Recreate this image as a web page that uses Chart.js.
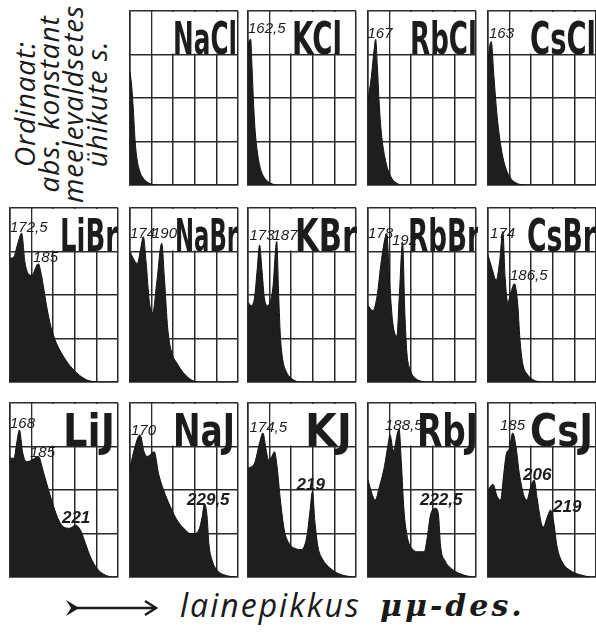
<!DOCTYPE html>
<html>
<head>
<meta charset="utf-8">
<script src="https://cdn.jsdelivr.net/npm/chart.js@4.4.1/dist/chart.umd.min.js"></script>
<style>
  html, body { margin: 0; padding: 0; background: #fff; }
  body { position: relative; width: 596px; height: 639px; overflow: hidden; }
  canvas.panel { position: absolute; }
  #ordinate {
    position: absolute; left: -45px; top: 56px; width: 210px; height: 96px;
    transform: rotate(-90deg); transform-origin: 50% 50%;
    font: italic 28px/24px "Open Sans", sans-serif; color: #1a1a1a; letter-spacing: 0.8px;
    text-align: center; white-space: nowrap;
  }
  #arrow { position: absolute; left: 60px; top: 596px; }
  #caption {
    position: absolute; left: 180px; top: 590px;
    font: italic 32px/30px "Open Sans", sans-serif; color: #1a1a1a; letter-spacing: 2px;
  }
  #unit {
    position: absolute; left: 380px; top: 591px;
    font: italic bold 30px/30px "DejaVu Serif", serif; color: #1a1a1a; letter-spacing: 3px;
  }
</style>
</head>
<body>
<div id="ordinate">Ordinaat:<br>abs. konstant<br>meelevaldsetes<br>ühikute s.</div>
<svg id="arrow" width="100" height="24" viewBox="60 596 100 24">
  <path d="M66 600 L79 608 L66 616 L71 608 Z" fill="#1a1a1a"/>
  <path d="M72 608 L155 608 M145 601 L156 608 L145 615" stroke="#1a1a1a" stroke-width="2.4" fill="none"/>
</svg>
<div id="caption">lainepikkus</div>
<div id="unit">μμ-des.</div>

<script>
// absorption curves, wavelength in μμ (x) and absorption in arbitrary units (y)
const NaCl_x = [160, 161.6, 163.1, 164.7, 166.2, 168.7, 172.4, 177.1, 183.3];
const NaCl_y = [2.6, 2.26, 1.72, 1.03, 0.65, 0.34, 0.15, 0.05, 0];

const KCl_x = [160, 160.9, 162.5, 163.7, 165.3, 166.8, 169.3, 172.4, 177.1, 184.8];
const KCl_y = [3.1, 3.3, 3.35, 2.72, 1.8, 1.19, 0.65, 0.31, 0.11, 0];

const RbCl_x = [160, 163.1, 165.6, 167.1, 168.7, 170.2, 172.4, 175.5, 178.6, 183.3, 189.5];
const RbCl_y = [1.95, 2.49, 3.1, 3.35, 2.72, 1.95, 1.19, 0.65, 0.34, 0.11, 0];

const CsCl_x = [160, 161.5, 163, 165.5, 168.5, 172, 175.5, 180, 186.5, 194];
const CsCl_y = [2.8, 3.18, 3.3, 2.49, 1.57, 0.88, 0.46, 0.19, 0.04, 0];

const LiBr_x = [160, 163.7, 166.8, 170.8, 173.8, 176.9, 180, 186.2, 189.2, 190.8, 193.8, 196.9, 201.5, 209.2, 218.5, 230.8, 240];
const LiBr_y = [2.84, 2.88, 3.15, 3.42, 2.76, 2.49, 2.45, 2.72, 2.45, 2.22, 1.76, 1.37, 0.98, 0.6, 0.29, 0.05, 0];

const NaBr_x = [160, 163.1, 166.8, 169.9, 172.4, 174.9, 178, 181.1, 184.8, 189.4, 191.9, 195, 198.7, 203.3, 209.5, 217.3, 221.9];
const NaBr_y = [2.99, 2.84, 2.72, 3.07, 3.34, 2.76, 1.83, 1.6, 2.3, 3.19, 2.38, 1.21, 0.67, 0.44, 0.21, 0.04, 0];

const KBr_x = [160, 163.1, 166.1, 168.6, 170.7, 172.8, 175.3, 178.3, 182.9, 186.6, 188.4, 190, 192.1, 195.2, 199.8, 205.9];
const KBr_y = [1.83, 1.76, 1.95, 2.61, 3.15, 2.61, 1.91, 1.76, 2.14, 3.23, 1.99, 1.06, 0.52, 0.25, 0.09, 0];

const RbBr_x = [160, 164.6, 168.5, 172.2, 177.4, 179.8, 182.9, 186.8, 189, 192, 194.1, 196, 199, 204.2, 211.8];
const RbBr_y = [1.76, 1.64, 1.99, 2.76, 3.4, 2.38, 1.37, 1.06, 1.99, 3.21, 1.6, 0.67, 0.29, 0.08, 0];

const CsBr_x = [160, 163.7, 167.6, 170.7, 173.7, 175.9, 178.3, 181.3, 184.4, 187.4, 189.6, 192, 196.6, 202.7, 208.8];
const CsBr_y = [2.92, 2.61, 2.34, 2.76, 3.46, 2.38, 1.83, 2.07, 2.26, 1.83, 0.98, 0.44, 0.17, 0.04, 0];

const LiJ_x = [160, 163.7, 166.2, 168.7, 171.8, 175.5, 180.2, 186.4, 190.4, 195.7, 200.4, 205, 209.7, 215.3, 220.6, 225.2, 229.9, 234.5, 240.8, 247, 253.2];
const LiJ_y = [2.73, 2.73, 3.08, 3.38, 2.85, 2.65, 2.69, 2.77, 2.46, 2.0, 1.62, 1.31, 1.15, 1.12, 1.19, 1.08, 0.77, 0.46, 0.19, 0.06, 0];

const NaJ_x = [160, 163.1, 169.3, 173, 176.1, 182.4, 186.4, 191.1, 197.3, 203.5, 209.7, 217.5, 223.7, 226.8, 229, 231.4, 233, 236.1, 240.8, 248.5, 256.3];
const NaJ_y = [2.5, 2.85, 3.27, 2.88, 2.77, 2.88, 2.38, 2.0, 1.62, 1.31, 1.12, 0.98, 1.08, 1.38, 1.69, 1.38, 0.77, 0.38, 0.15, 0.04, 0];

const KJ_x = [160, 166.1, 170.7, 173.8, 176.8, 179, 182, 184.5, 186.9, 190, 193.6, 198.2, 204.3, 209.5, 214.4, 217.5, 219.6, 222.1, 224.8, 228.8, 234.9, 242.6, 251.7, 257.9];
const KJ_y = [2.5, 2.62, 3.08, 3.31, 2.92, 2.69, 2.77, 2.88, 2.54, 1.77, 1.08, 0.77, 0.65, 0.63, 0.92, 1.54, 1.96, 1.23, 0.69, 0.42, 0.23, 0.09, 0.02, 0];

const RbJ_x = [160, 163.6, 166.7, 170.6, 175.2, 178.8, 180.3, 183.6, 187.3, 188.8, 190.9, 193.3, 196.4, 200.9, 207, 212.1, 214.5, 218.2, 222.7, 225.1, 227.3, 231.2, 237.3, 244.8, 252.4, 258.5];
const RbJ_y = [2.23, 1.92, 1.77, 2.08, 2.54, 3.08, 3.27, 2.9, 3.31, 3.4, 2.62, 1.54, 0.92, 0.65, 0.58, 0.58, 0.85, 1.46, 1.58, 1.46, 0.69, 0.38, 0.19, 0.08, 0.02, 0];

const CsJ_x = [160, 164.6, 168.5, 171.6, 174.6, 176.8, 179.8, 182.9, 185.9, 189, 193.5, 196, 199.6, 202.7, 205.7, 209.4, 211.2, 214.9, 217.9, 221, 224, 228.6, 236.2, 245.4, 254.5];
const CsJ_y = [2.0, 2.13, 1.85, 1.77, 2.38, 2.81, 2.96, 3.31, 3.0, 2.38, 1.85, 1.77, 2.08, 2.23, 1.77, 1.23, 1.15, 1.38, 1.54, 1.23, 0.69, 0.35, 0.15, 0.05, 0];

// peak wavelengths written on the curves: [text, wavelength, height, bold]
const KCl_peaks = [['162,5', 160, 3.49]];
const RbCl_peaks = [['167', 159.5, 3.38]];
const CsCl_peaks = [['163', 160.9, 3.38]];
const LiBr_peaks = [['172,5', 160, 3.45], ['185', 181.3, 2.76]];
const NaBr_peaks = [['174', 160, 3.31], ['190', 180.4, 3.31]];
const KBr_peaks = [['173', 161.4, 3.26], ['187', 182.7, 3.26]];
const RbBr_peaks = [['178', 160, 3.31], ['192', 182.2, 3.15]];
const CsBr_peaks = [['174', 161.9, 3.31], ['186,5', 180.4, 2.34]];
const LiJ_peaks = [['168', 160, 3.43], ['185', 178.5, 2.76], ['221', 208.1, 1.24, true]];
const NaJ_peaks = [['170', 160.9, 3.26], ['229,5', 212.8, 1.66, true]];
const KJ_peaks = [['174,5', 161.4, 3.33], ['219', 205, 2.0, true]];
const RbJ_peaks = [['188,5', 175.7, 3.38], ['222,5', 208.1, 1.66, true]];
const CsJ_peaks = [['185', 171.1, 3.38], ['206', 192.4, 2.23, true], ['219', 220.2, 1.49, true]];

// layout
const colLeft = [10, 130, 248, 368, 488];
const rowTop = [11, 208, 403];
const PW = 108, PH = 174, PAD = 2;
const INK = '#1c1c1c';

const panels = [
  { name: 'NaCl', x: NaCl_x, y: NaCl_y, peaks: [], col: 1, row: 0, box: [43, 64] },
  { name: 'KCl', x: KCl_x, y: KCl_y, peaks: KCl_peaks, col: 2, row: 0, box: [44, 50] },
  { name: 'RbCl', x: RbCl_x, y: RbCl_y, peaks: RbCl_peaks, col: 3, row: 0, box: [42, 67] },
  { name: 'CsCl', x: CsCl_x, y: CsCl_y, peaks: CsCl_peaks, col: 4, row: 0, box: [42, 66] },
  { name: 'LiBr', x: LiBr_x, y: LiBr_y, peaks: LiBr_peaks, col: 0, row: 1, box: [50, 58] },
  { name: 'NaBr', x: NaBr_x, y: NaBr_y, peaks: NaBr_peaks, col: 1, row: 1, box: [45, 63] },
  { name: 'KBr', x: KBr_x, y: KBr_y, peaks: KBr_peaks, col: 2, row: 1, box: [47, 62] },
  { name: 'RbBr', x: RbBr_x, y: RbBr_y, peaks: RbBr_peaks, col: 3, row: 1, box: [40, 72] },
  { name: 'CsBr', x: CsBr_x, y: CsBr_y, peaks: CsBr_peaks, col: 4, row: 1, box: [39, 69] },
  { name: 'LiJ', x: LiJ_x, y: LiJ_y, peaks: LiJ_peaks, col: 0, row: 2, box: [53, 52] },
  { name: 'NaJ', x: NaJ_x, y: NaJ_y, peaks: NaJ_peaks, col: 1, row: 2, box: [43, 62] },
  { name: 'KJ', x: KJ_x, y: KJ_y, peaks: KJ_peaks, col: 2, row: 2, box: [57, 47] },
  { name: 'RbJ', x: RbJ_x, y: RbJ_y, peaks: RbJ_peaks, col: 3, row: 2, box: [49, 61] },
  { name: 'CsJ', x: CsJ_x, y: CsJ_y, peaks: CsJ_peaks, col: 4, row: 2, box: [42, 63] }
];

// title cell in the top row + salt name and peak numbers
const panelDecor = {
  id: 'panelDecor',
  beforeDatasetsDraw(chart, args, o) {
    const { ctx, scales: { x, y } } = chart;
    const l = x.getPixelForValue(180) + 1, r = x.getPixelForValue(260) - 1;
    const t = y.getPixelForValue(4) + 1, b = y.getPixelForValue(3) - 1;
    ctx.save();
    ctx.fillStyle = '#fff';
    ctx.fillRect(l, t, r - l, b - t);
    ctx.restore();
  },
  afterDatasetsDraw(chart, args, o) {
    const { ctx, chartArea: a, scales: { x, y } } = chart;
    ctx.save();
    ctx.fillStyle = INK;
    ctx.textBaseline = 'alphabetic';
    ctx.font = 'bold 44px "DejaVu Sans", sans-serif';
    const w = ctx.measureText(o.name).width;
    ctx.translate(a.left + o.box[0], y.getPixelForValue(3) - 1);
    ctx.scale(o.box[1] / w, 1);
    ctx.fillText(o.name, 0, 0);
    ctx.restore();

    ctx.save();
    ctx.fillStyle = INK;
    ctx.textBaseline = 'alphabetic';
    o.peaks.forEach(([txt, px, py, bold]) => {
      ctx.font = bold ? 'italic bold 17px "Liberation Sans", sans-serif'
                      : 'italic 15px "Liberation Sans Narrow", sans-serif';
      ctx.fillText(txt, x.getPixelForValue(px), y.getPixelForValue(py));
    });
    ctx.restore();
  }
};

const gridStyle = { color: '#2a2a2a', lineWidth: 1.5, drawTicks: false };
const borderStyle = { color: '#2a2a2a', width: 1.5 };

panels.forEach(p => {
  const cv = document.createElement('canvas');
  cv.className = 'panel';
  cv.width = PW + 2 * PAD;
  cv.height = PH + 2 * PAD;
  cv.style.left = (colLeft[p.col] - PAD) + 'px';
  cv.style.top = (rowTop[p.row] - PAD) + 'px';
  document.body.appendChild(cv);

  new Chart(cv, {
    type: 'line',
    data: {
      datasets: [{
        data: p.x.map((v, i) => ({ x: v, y: p.y[i] })),
        fill: 'origin',
        backgroundColor: '#1e1e1e',
        borderColor: '#111',
        borderWidth: 1,
        pointRadius: 0,
        cubicInterpolationMode: 'monotone'
      }]
    },
    options: {
      responsive: false,
      animation: false,
      events: [],
      layout: { padding: PAD },
      plugins: {
        legend: { display: false },
        tooltip: { enabled: false },
        panelDecor: { name: p.name, box: p.box, peaks: p.peaks }
      },
      scales: {
        x: {
          type: 'linear', min: 160, max: 260,
          ticks: { display: false, stepSize: 20 },
          grid: gridStyle, border: borderStyle
        },
        y: {
          min: 0, max: 4,
          ticks: { display: false, stepSize: 1 },
          grid: gridStyle, border: borderStyle
        }
      }
    },
    plugins: [panelDecor]
  });
});
</script>
</body>
</html>
